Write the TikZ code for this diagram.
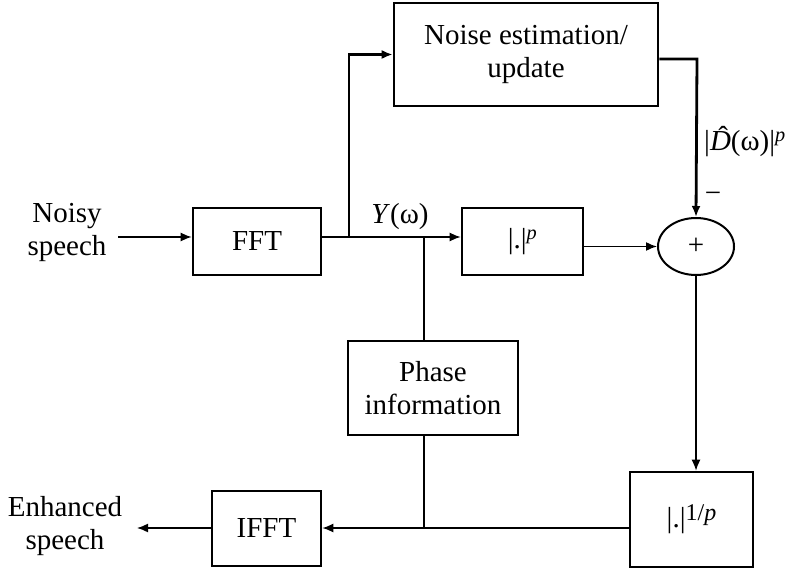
\documentclass[tikz,border=0pt]{standalone}
\usepackage{fontspec}
\setmainfont{Liberation Serif}
\usetikzlibrary{arrows.meta,shapes.geometric}
\newcommand{\dhatsym}{\ooalign{\textit{D}\cr\hidewidth\kern0.18em\raisebox{0.16em}{\char"02C6}\hidewidth\cr}}
\tikzset{
  blk/.style={draw, line width=2.6pt, rectangle, inner sep=0pt, align=center},
  lbl/.style={align=center, inner sep=0pt},
  thinline/.style={line width=1.5pt},
  thickline/.style={line width=2.8pt, line join=miter},
  tip/.style={-{Latex[length=11pt,width=9pt]}},
}
\begin{document}
\begin{tikzpicture}[x=1pt,y=-1pt,font=\fontsize{29}{33}\selectfont]
\useasboundingbox (0,0) rectangle (792,569);

% blocks
\node[blk, minimum width=128pt, minimum height=67pt] (fft) at (257,241.5) {FFT};
\node[blk, minimum width=264pt, minimum height=103pt] (noise) at (526,54.5) {Noise estimation/\\update};
\node[blk, minimum width=121pt, minimum height=67pt] (pow) at (522.5,241.5) {|.|\textsuperscript{\textit{p}}};
\node[draw, ellipse, line width=2pt, minimum width=76pt, minimum height=57pt, inner sep=0pt] (sum) at (696,246.5) {+};
\node[blk, minimum width=170pt, minimum height=94pt] (phase) at (433,388) {Phase\\information};
\node[blk, minimum width=123pt, minimum height=95pt] (root) at (691.5,519.5) {|.|\raisebox{0.5ex}{\fontsize{24}{24}\selectfont 1/\textit{p}}};
\node[blk, minimum width=109pt, minimum height=75pt] (ifft) at (266.5,528.5) {IFFT};

% text labels
\node[lbl] (noisy) at (67,232) {Noisy\\speech};
\node[lbl] (enh) at (65,526) {Enhanced\\speech};
\node[lbl] (yw) at (400,217) {\textit{Y}(ω)};
\node[lbl, anchor=west] (dhat) at (704,144) {|\dhatsym(ω)|\textsuperscript{\textit{p}}};
\node[lbl] (minus) at (713,197) {−};

% junction points
\coordinate (src) at (118,237);
\coordinate (br) at (349,237);
\coordinate (j) at (424,237);
\coordinate (k) at (424,528);
\coordinate (outend) at (137,528);
\coordinate (bend) at (697,59);

% forward path
\draw[thinline, tip] (src) -- (fft.west |- src);
\draw[thinline] (fft.east |- br) -- (j);
\draw[thinline, tip] (j) -- (pow.west |- j);
\draw[thinline, tip] (pow.east |- sum) -- (sum.west);

% noise estimation branch
\draw[thickline, tip] (br) -- (br |- noise.west) -- (noise.west);
\draw[thickline, tip] (noise.east |- bend) -- (bend) -- (sum.north);

% to the root block
\draw[thinline, tip] (sum.south) -- (sum.south |- root.north);

% phase path
\draw[thickline] (j) -- (phase.north -| j);
\draw[thickline] (phase.south -| j) -- (k);

% synthesis path
\draw[thinline, tip] (root.west |- k) -- (ifft.east |- k);
\draw[thinline, tip] (ifft.west |- k) -- (outend);
\end{tikzpicture}
\end{document}
